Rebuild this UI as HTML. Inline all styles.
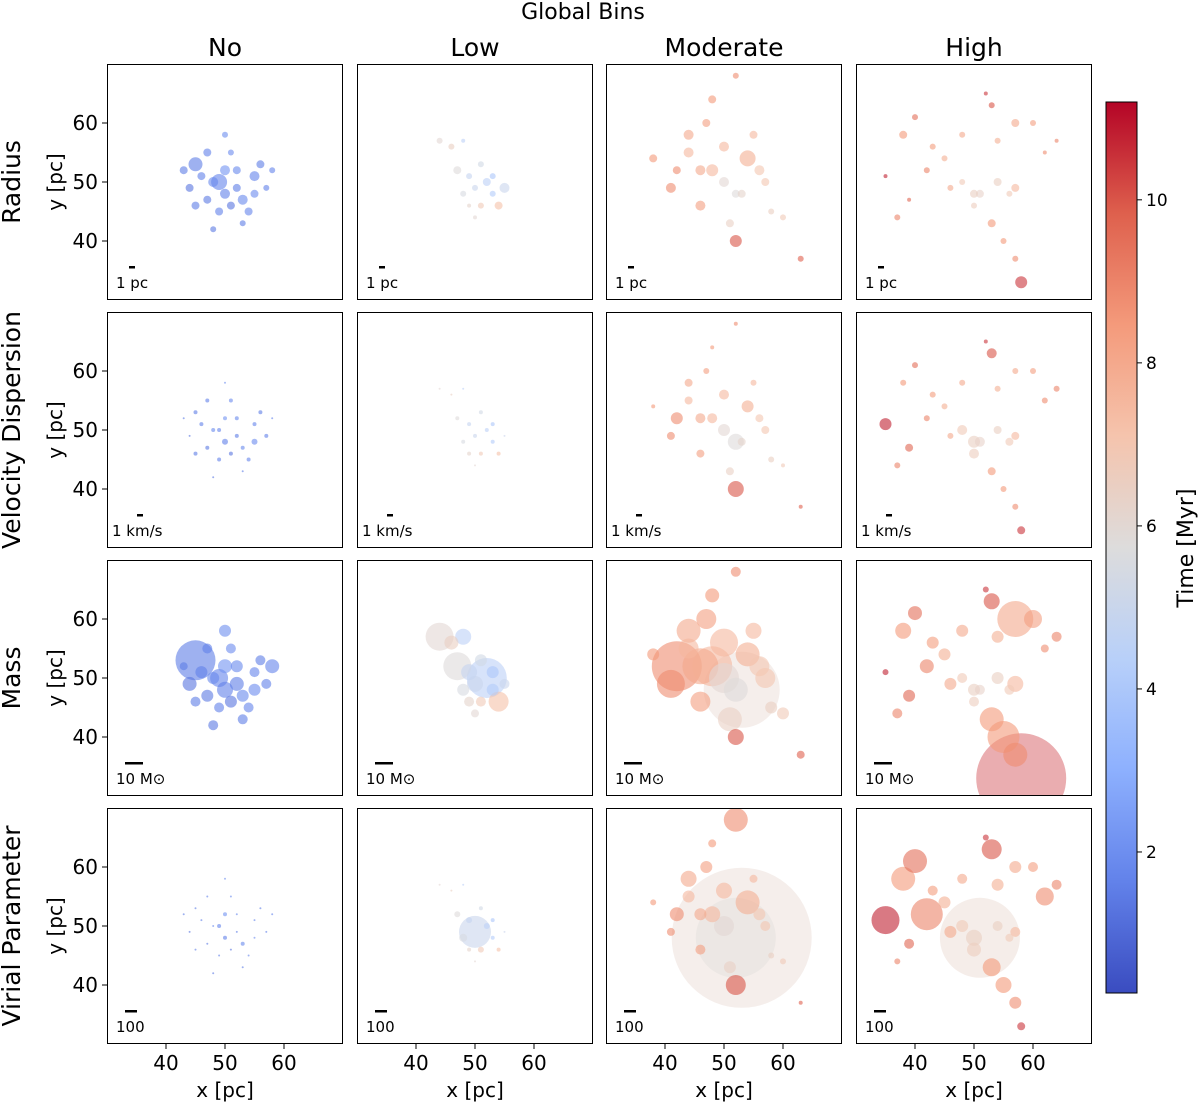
<!DOCTYPE html>
<html><head><meta charset="utf-8"><style>
body{margin:0;background:#fff;font-family:"DejaVu Sans","Liberation Sans",sans-serif;}
svg{display:block}
</style></head><body>
<svg id="fig" width="1200" height="1103" xmlns="http://www.w3.org/2000/svg">
<defs><linearGradient id="cg" x1="0" y1="1" x2="0" y2="0"></linearGradient></defs>
</svg>
<script>
const colNames=["No","Low","Moderate","High"];
const rowNames=["Radius","Velocity Dispersion","Mass","Virial Parameter"];
const scaleLabels=["1 pc","1 km/s","10 M\u2299","100"];
const axisTicks=[40,50,60];
const cbTicks=[2,4,6,8,10];
// column point data: x, y, time
const c1x=[45,48,50,52,55,47,49,53,44,56,51,50,46,54,48,43,57,52,45,58,50,47,53,55,49,51];
const c1y=[53,50,48,49,51,47,45,47,49,53,55,58,51,45,42,52,49,52,46,52,52,55,43,48,50,46];
const c1t=[1.5,1.8,1.6,1.5,1.7,1.4,1.6,1.8,1.3,1.5,1.9,2.0,1.6,1.7,1.4,1.5,1.6,1.8,1.5,1.7,2.1,1.6,1.5,1.9,1.7,1.3];
const c2x=[50,52,48,47,53,46,51,54,49,55,44,48,51,53,49,50];
const c2y=[49,50,48,52,51,56,46,46,51,49,57,57,53,48,46,44];
const c2t=[5,4.5,5.5,5.8,4,6.5,6.8,7.2,4.8,5,6,4.5,5.3,4.2,6.2,6];
const c3x=[44,48,52,50,46,54,53,56,52,44,47,50,42,58,60,63,48,38,46,55,52,51,57,41];
const c3y=[55,52,48,50,52,54,48,52,40,58,60,56,52,45,44,37,64,54,46,58,68,43,50,49];
const c3t=[7.5,7.5,5.8,6,8,7.8,6.2,7,10,8,8.3,7.5,8.8,6.5,6.8,9.8,8.5,8.5,8.3,7.5,8.8,6.4,7,8.8];
const c4x=[51,50,48,54,56,48,45,38,35,37,43,57,57,53,53,55,57,58,46,60,64,62,50,54,52,40,42,39];
const c4y=[48,48,50,50,48,58,54,58,51,44,56,60,49,63,43,40,37,33,49,60,57,55,46,57,65,61,52,47];
const c4t=[6.3,6.5,6.8,6.5,6.8,8,7.8,8.5,10.8,9,8.4,8,7.5,10,8.5,8.5,8.8,10.5,8,8.3,9,8.8,6.6,7.8,10.5,9.5,9,9.7];
// marker radii (px) per row per column
const s11=[7,5,5,4,5,4,4,5,4,4,3,3,4,4,3,4,3,4,4,3,5,4,3,4,8,4];
const s21=[2,2,3,2,2,2,2,2,1,2,2,1,2,2,1,1,2,2,2,1,2,2,1,3,2,2];
const s31=[20,6,8,7,5,6,5,6,7,5,5,6,6,5,5,4,5,6,5,7,7,5,5,6,9,6];
const s41=[1,1,2,1,1,1,1,2,1,1,1,1,1,1,1,1,1,1,1,1,2,1,1,1,2,1];
const s12=[3,4,3,4,3,3,3,4,3,5,3,2,3,3,2,2];
const s22=[2,2,2,2,2,1,2,2,2,1,1,1,2,2,2,1];
const s32=[8,20,6,14,6,7,5,10,8,5,14,8,6,6,5,4];
const s42=[16,3,4,3,2,1,3,2,3,1,1,1,2,2,2,1];
const s13=[5,6,4,5,5,8,4,5,6,5,4,5,4,3,3,3,4,4,5,4,3,4,4,5];
const s23=[4,5,8,6,5,6,4,4,8,4,3,5,6,3,2,2,2,2,4,3,2,4,4,4];
const s33=[10,20,12,15,18,12,38,10,8,12,10,14,25,6,6,4,7,6,10,8,5,12,10,14];
const s43=[6,8,40,10,6,12,70,6,10,8,6,8,7,3,3,2,4,3,5,4,12,6,5,4];
const s14=[4,4,3,4,3,3,3,4,2,3,3,4,4,3,4,3,3,6,3,3,2,2,3,3,2,3,3,2];
const s24=[5,6,5,4,4,3,3,3,6,3,3,3,4,5,4,3,3,4,3,3,3,3,5,3,2,3,3,4];
const s34=[5,6,5,6,5,6,6,8,3,5,6,18,8,8,12,16,12,45,6,9,5,4,5,6,3,7,7,6];
const s44=[40,8,6,5,4,5,6,12,14,3,5,6,5,10,9,8,6,4,6,5,5,9,7,6,3,12,16,5];

const cols=[[c1x,c1y,c1t],[c2x,c2y,c2t],[c3x,c3y,c3t],[c4x,c4y,c4t]];
const sizes=[[s11,s12,s13,s14],[s21,s22,s23,s24],[s31,s32,s33,s34],[s41,s42,s43,s44]];

const NS="http://www.w3.org/2000/svg";
const svg=document.getElementById('fig');
function mk(tag,attrs,parent){const e=document.createElementNS(NS,tag);for(const k in attrs)e.setAttribute(k,attrs[k]);(parent||svg).appendChild(e);return e;}
const stops=[[0,58,76,192],[0.125,98,130,234],[0.25,141,176,254],[0.375,184,208,249],[0.5,221,220,220],[0.625,245,196,173],[0.75,244,154,123],[0.875,222,96,77],[1,180,4,38]];
const tmin=0.27,tmax=11.2;
function cmap(t){let v=(t-tmin)/(tmax-tmin);v=Math.max(0,Math.min(1,v));
 for(let i=1;i<stops.length;i++){if(v<=stops[i][0]){const a=stops[i-1],b=stops[i],f=(v-a[0])/(b[0]-a[0]);
 return `rgb(${Math.round(a[1]+f*(b[1]-a[1]))},${Math.round(a[2]+f*(b[2]-a[2]))},${Math.round(a[3]+f*(b[3]-a[3]))})`;}}return 'rgb(180,4,38)';}
const colX=[107,357,606,856], rowY=[64,312,560,808], PW=236, PH=236;
function sx(c,v){return colX[c]+(v-30)/40*PW;}
function sy(r,v){return rowY[r]+(70-v)/40*PH;}
function txt(x,y,s,size,anchor,name,rot){const e=mk('text',{x:x,y:y,'font-size':size,'text-anchor':anchor||'middle',fill:'#000'});
 if(rot)e.setAttribute('transform',`rotate(-90 ${x} ${y})`);e.textContent=s;
 
 return e;}
txt(583,19,"Global Bins",22,'middle','figure-title');
colNames.forEach((n,c)=>txt(colX[c]+PW/2,56,n,25,'middle','column-title-'+n.toLowerCase()));
rowNames.forEach((n,r)=>txt(20,rowY[r]+PH/2,n,25,'middle','row-title-'+r,true));
for(let r=0;r<4;r++)for(let c=0;c<4;c++){
 const g=mk('g',{});
 
 
 const cid='clip'+r+c;const cp=mk('clipPath',{id:cid},g);mk('rect',{x:colX[c],y:rowY[r],width:PW,height:PH},cp);
 const pts=mk('g',{'clip-path':`url(#${cid})`},g);
 const [X,Y,T]=cols[c];const S=sizes[r][c];
 const idx=X.map((_,i)=>i).sort((a,b)=>S[b]-S[a]);
 idx.forEach(i=>{const op=S[i]>30?0.4:0.6;
  const e=mk('circle',{cx:sx(c,X[i]),cy:sy(r,Y[i]),r:S[i],fill:cmap(T[i]),'fill-opacity':op},pts);
  
  });
 const fr=mk('rect',{x:colX[c]+0.5,y:rowY[r]+0.5,width:PW-1,height:PH-1,fill:'none',stroke:'#000','stroke-width':1},g);
 
 
 const bw=r==2?18:(r==3?12:6);
 mk('rect',{x:colX[c]+(r==1?30:22)-(r>=2?4:0),y:rowY[r]+202,width:bw,height:2.5,fill:'#000'},g);
 txt(colX[c]+(r==1?5:9),rowY[r]+224,scaleLabels[r],15,'start','scale-label');
 if(c==0){axisTicks.forEach(t=>{mk('line',{x1:colX[0],x2:colX[0]-5,y1:sy(r,t),y2:sy(r,t),stroke:'#000'});
   txt(colX[0]-9,sy(r,t)+7,String(t),20,'end','y-tick');});
   txt(62,rowY[r]+PH/2,"y [pc]",20,'middle','y-axis-title',true);}
 if(r==3){axisTicks.forEach(t=>{mk('line',{x1:sx(c,t),x2:sx(c,t),y1:1044,y2:1049,stroke:'#000'});
   txt(sx(c,t),1070,String(t),20,'middle','x-tick');});
   txt(colX[c]+PW/2,1097,"x [pc]",20,'middle','x-axis-title');}
}
const grad=document.getElementById('cg');
stops.forEach(s=>mk('stop',{offset:s[0],'stop-color':`rgb(${s[1]},${s[2]},${s[3]})`},grad));
const cbTop=102,cbBot=993;
const cb=mk('rect',{x:1106,y:cbTop,width:31,height:cbBot-cbTop,fill:'url(#cg)',stroke:'#000'});


function cy(t){return cbBot-(t-tmin)/(tmax-tmin)*(cbBot-cbTop);}
cbTicks.forEach(t=>{mk('line',{x1:1137,x2:1142,y1:cy(t),y2:cy(t),stroke:'#000'});txt(1146,cy(t)+6,String(t),17,'start','colorbar-tick');});
txt(1193,548,"Time [Myr]",22,'middle','colorbar-title',true);
</script>
</body></html>
